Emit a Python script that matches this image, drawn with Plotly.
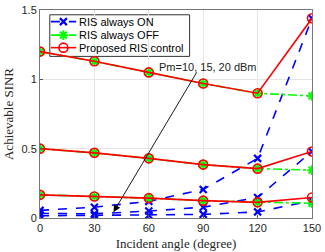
import plotly.graph_objects as go

angles = [0, 30, 60, 90, 120, 150]
tick_vals_y = [0, 0.5, 1, 1.5]
tick_text_y = ["0", "0.5", "1", "1.5"]

# RIS always ON, Pm = 20, 15, 10 dBm
on_20 = [0.055, 0.078, 0.12, 0.206, 0.43, 1.44]
on_15 = [0.033, 0.03, 0.05, 0.078, 0.148, 0.48]
on_10 = [0.016, 0.018, 0.02, 0.026, 0.044, 0.125]

# RIS always OFF
off_20 = [1.2, 1.13, 1.05, 0.97, 0.9, 0.88]
off_15 = [0.5, 0.47, 0.43, 0.385, 0.356, 0.345]
off_10 = [0.167, 0.155, 0.143, 0.125, 0.113, 0.106]

# Proposed RIS control
prop_20 = [1.2, 1.13, 1.05, 0.97, 0.9, 1.44]
prop_15 = [0.5, 0.47, 0.43, 0.385, 0.356, 0.48]
prop_10 = [0.167, 0.155, 0.143, 0.125, 0.113, 0.148]

legend_names = ["RIS always ON", "RIS always OFF", "Proposed RIS control"]

BLUE, GREEN, RED = "#0000ff", "#00ff00", "#ff0000"
styles = [
    dict(line=dict(color=BLUE, width=1.6, dash="dash"),
         marker=dict(symbol="x-thin-open", size=7, line=dict(color=BLUE, width=2.2), color=BLUE)),
    dict(line=dict(color=GREEN, width=1.6, dash="dashdot"),
         marker=dict(symbol="asterisk-open", size=8, line=dict(color="#00dd00", width=2), color=GREEN)),
    dict(line=dict(color=RED, width=1.6),
         marker=dict(symbol="circle-open", size=9, line=dict(color=RED, width=1.6), color=RED)),
]

fig = go.Figure()
for k, group in enumerate([[on_20, on_15, on_10], [off_20, off_15, off_10], [prop_20, prop_15, prop_10]]):
    for ys in group:
        fig.add_trace(go.Scatter(x=angles, y=ys, mode="lines+markers", name=legend_names[k],
                                 showlegend=False, hoverinfo="skip", **styles[k]))

# compact MATLAB-style legend drawn on an overlay axis in paper-like units
box = dict(x0=0.036, x1=0.550, y0=0.777, y1=0.977)
rows_y = [0.944, 0.879, 0.819]
fig.add_shape(type="rect", xref="paper", yref="paper", layer="between",
              fillcolor="white", line=dict(color="#333", width=1), **box)
for k in range(3):
    fig.add_trace(go.Scatter(x=[0.040, 0.133], y=[rows_y[k], rows_y[k]], mode="lines",
                             xaxis="x2", yaxis="y2", showlegend=False, hoverinfo="skip",
                             line=styles[k]["line"]))
    fig.add_trace(go.Scatter(x=[0.086], y=[rows_y[k]], mode="markers",
                             xaxis="x2", yaxis="y2", showlegend=False, hoverinfo="skip",
                             marker=styles[k]["marker"]))
    fig.add_annotation(x=0.137, y=rows_y[k], xref="paper", yref="paper", xanchor="left",
                       yanchor="middle", showarrow=False, text=legend_names[k],
                       font=dict(family="Liberation Sans, Arial", size=11, color="#000"))

fig.add_annotation(x=40.5, y=0.042, ax=86.9, ay=1.061, xref="x", yref="y", axref="x", ayref="y",
                   text="", showarrow=True, arrowhead=2, arrowsize=1.6, arrowwidth=0.9, arrowcolor="black")
fig.add_annotation(x=92.8, y=1.089, xref="x", yref="y", text="Pm=10, 15, 20 dBm", showarrow=False,
                   font=dict(family="Liberation Sans, Arial", size=11, color="#222"))

axis_common = dict(showgrid=True, gridcolor="#e6e6e6", gridwidth=1, zeroline=False,
                   showline=True, linecolor="#777", linewidth=1, mirror=True,
                   ticks="inside", ticklen=3, tickcolor="#555", ticklabeloverflow="allow",
                   tickfont=dict(family="Liberation Sans, Arial", size=11, color="#262626"))

fig.update_xaxes(range=[0, 150], tickvals=angles, **axis_common,
                 title=dict(text="Incident angle (degree)", standoff=5,
                            font=dict(family="Liberation Serif, Times New Roman", size=13, color="#262626")))
fig.update_yaxes(range=[0, 1.5], tickvals=tick_vals_y, ticktext=tick_text_y, **axis_common,
                 title=dict(text="Achievable SINR", standoff=4,
                            font=dict(family="Liberation Serif, Times New Roman", size=13, color="#262626")))

fig.update_layout(
    width=325, height=252, margin=dict(l=40, r=7, t=4, b=33),
    plot_bgcolor="white", paper_bgcolor="white", showlegend=False,
    xaxis2=dict(overlaying="x", range=[0, 1], visible=False, fixedrange=True),
    yaxis2=dict(overlaying="y", range=[0, 1], visible=False, fixedrange=True),
)

fig.write_html("out.html", config={"displayModeBar": False},
               post_script="document.body.style.margin='0';document.body.style.overflow='hidden';")
